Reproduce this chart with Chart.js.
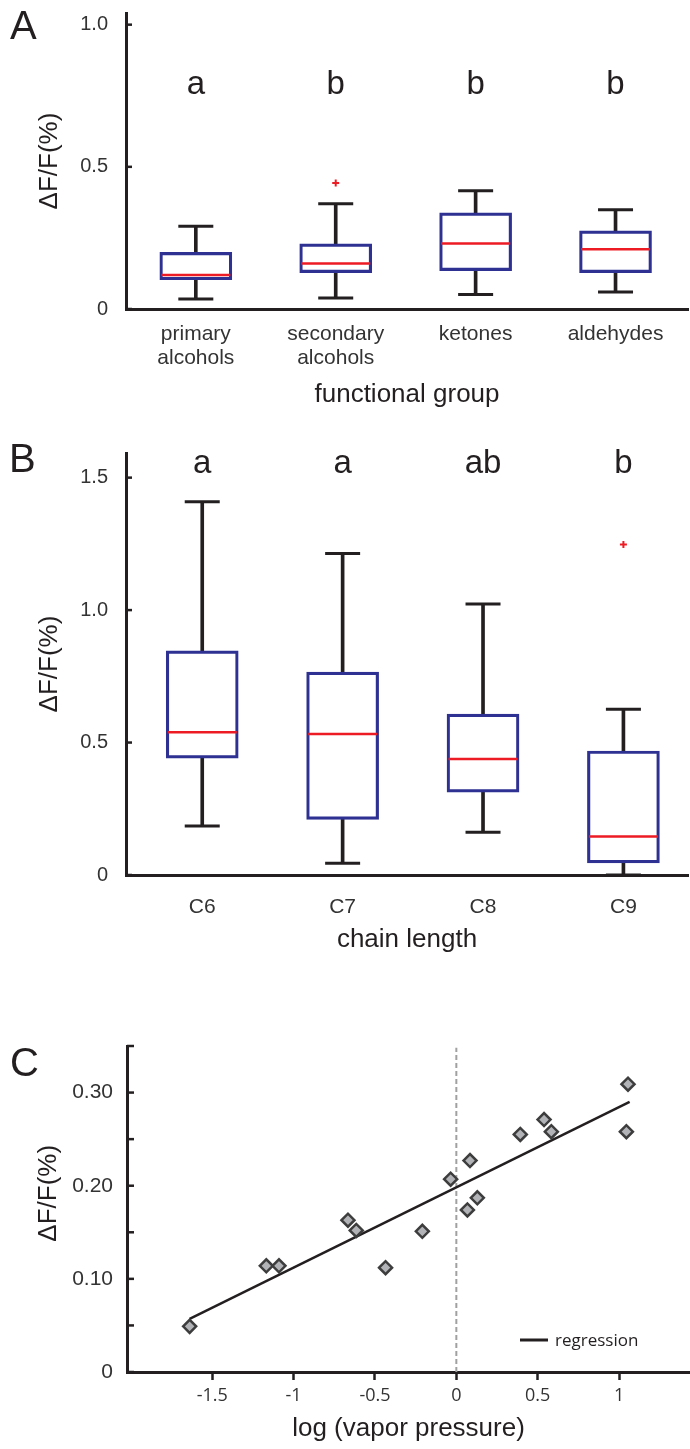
<!DOCTYPE html>
<html lang="en">
<head>
<meta charset="utf-8">
<title>ΔF/F by functional group, chain length and vapor pressure</title>
<script src="https://cdn.jsdelivr.net/npm/chart.js@4/dist/chart.umd.min.js"></script>
<style>
  html, body { margin: 0; padding: 0; background: #ffffff; }
  #figure { position: relative; width: 690px; height: 1449px; }
  canvas { position: absolute; left: 0; }
</style>
</head>
<body>
<div id="figure">
  <canvas id="chartA" width="690" height="420" style="top:0px"></canvas>
  <canvas id="chartB" width="690" height="580" style="top:420px"></canvas>
  <canvas id="chartC" width="690" height="449" style="top:1000px"></canvas>
</div>
<script>
// ---- Panel A: functional group (box plot values) ----
const groupsA = [['primary', 'alcohols'], ['secondary', 'alcohols'], 'ketones', 'aldehydes'];
const lowA  = [0.035, 0.039, 0.051, 0.060];
const q1A   = [0.103, 0.128, 0.135, 0.128];
const medA  = [0.120, 0.160, 0.230, 0.210];
const q3A   = [0.199, 0.229, 0.338, 0.275];
const highA = [0.291, 0.370, 0.416, 0.349];
const outlierGroupA = [1];
const outlierValueA = [0.443];
const sigA = ['a', 'b', 'b', 'b'];
const yTicksA  = [0, 0.5, 1.0];
const yLabelsA = ['0', '0.5', '1.0'];

// ---- Panel B: chain length ----
const groupsB = ['C6', 'C7', 'C8', 'C9'];
const lowB  = [0.185, 0.044, 0.161, 0.000];
const q1B   = [0.441, 0.210, 0.313, 0.046];
const medB  = [0.539, 0.532, 0.438, 0.145];
const q3B   = [0.846, 0.766, 0.607, 0.468];
const highB = [1.409, 1.214, 1.023, 0.626];
const outlierGroupB = [3];
const outlierValueB = [1.248];
const sigB = ['a', 'a', 'ab', 'b'];
const yTicksB  = [0, 0.5, 1.0, 1.5];
const yLabelsB = ['0', '0.5', '1.0', '1.5'];

// ---- Panel C: log vapor pressure vs response ----
const logVP = [-1.639, -1.168, -1.090, -0.666, -0.615, -0.435, -0.209, -0.035,
               0.084, 0.068, 0.129, 0.393, 0.539, 0.584, 1.055, 1.045];
const dffC  = [0.049, 0.114, 0.114, 0.163, 0.152, 0.112, 0.151, 0.207,
               0.227, 0.174, 0.187, 0.255, 0.271, 0.258, 0.309, 0.258];
const regX = [-1.639, 1.065];
const regY = [0.057, 0.290];
const zeroX = [0, 0];
const zeroY = [0, 0.348];
const xTicksC  = [-1.5, -1, -0.5, 0, 0.5, 1];
const xLabelsC = ['-1.5', '-1', '-0.5', '0', '0.5', '1'];
const yTicksC  = [0, 0.05, 0.10, 0.15, 0.20, 0.25, 0.30, 0.35];
const yLabelsC = ['0', '', '0.10', '', '0.20', '', '0.30', ''];

// Cores e fontes
const INK = '#231f20';
const TICK = '#333333';
const BOX_BLUE = '#2e3192';
const MED_RED = '#ed1c24';
const SANS = '"Liberation Sans", Arial, Helvetica, sans-serif';
const SANS_C = '"Open Sans", Calibri, sans-serif';
const YTITLE = 'ΔF/F(%)';

// inward tick marks on the y axis
function inwardTicks(length) {
    return {
        id: 'inwardTicks',
        afterDraw(chart) {
            const { ctx, chartArea, scales: { y } } = chart;
            ctx.save();
            ctx.strokeStyle = INK;
            ctx.lineWidth = 2.5;
            y.ticks.forEach(t => {
                const py = y.getPixelForValue(t.value);
                ctx.beginPath();
                ctx.moveTo(chartArea.left, py);
                ctx.lineTo(chartArea.left + length, py);
                ctx.stroke();
            });
            ctx.restore();
        }
    };
}

// significance letters above each group
function sigLetters(letters, level) {
    return {
        id: 'sigLetters',
        afterDraw(chart) {
            const { ctx, scales: { x, y } } = chart;
            ctx.save();
            ctx.fillStyle = INK;
            ctx.font = '33px ' + SANS;
            ctx.textAlign = 'center';
            ctx.textBaseline = 'alphabetic';
            letters.forEach((s, i) => ctx.fillText(s, x.getPixelForValue(i), y.getPixelForValue(level)));
            ctx.restore();
        }
    };
}

// free text: panel letters, rotated titles
function freeText(items) {
    return {
        id: 'freeText',
        afterDraw(chart) {
            const ctx = chart.ctx;
            items.forEach(it => {
                ctx.save();
                ctx.fillStyle = INK;
                ctx.font = it.font;
                ctx.textAlign = it.align || 'left';
                ctx.textBaseline = it.baseline || 'alphabetic';
                ctx.translate(it.x, it.y);
                if (it.rotate) ctx.rotate(it.rotate);
                ctx.fillText(it.text, 0, 0);
                ctx.restore();
            });
        }
    };
}

// small legend inside panel C
function lineLegend(label) {
    return {
        id: 'lineLegend',
        afterDraw(chart) {
            const ctx = chart.ctx;
            ctx.save();
            ctx.strokeStyle = INK;
            ctx.lineWidth = 3;
            ctx.beginPath();
            ctx.moveTo(520, 340);
            ctx.lineTo(548, 340);
            ctx.stroke();
            ctx.fillStyle = INK;
            ctx.font = '17px ' + SANS_C;
            ctx.textBaseline = 'alphabetic';
            ctx.fillText(label, 555, 345.5);
            ctx.restore();
        }
    };
}

// datasets for one box plot panel
function boxDatasets(low, q1, med, q3, high, outG, outV) {
    const idx = med.map((_, i) => i);
    return [
        {
            type: 'line', label: 'median',
            data: idx.map(i => ({ x: i, y: med[i] })),
            showLine: false, pointStyle: 'line', pointRadius: 34.5,
            pointBorderColor: MED_RED, pointBorderWidth: 2.5, order: 0
        },
        {
            type: 'line', label: 'caps',
            data: idx.map(i => ({ x: i, y: high[i] })).concat(idx.map(i => ({ x: i, y: low[i] }))),
            showLine: false, pointStyle: 'line', pointRadius: 17.5,
            pointBorderColor: INK, pointBorderWidth: 3, order: 0
        },
        {
            type: 'line', label: 'outliers',
            data: outG.map((g, k) => ({ x: g, y: outV[k] })),
            showLine: false, pointStyle: 'cross', pointRadius: 3.5,
            pointBorderColor: MED_RED, pointBorderWidth: 2, order: 0
        },
        {
            type: 'bar', label: 'box',
            data: idx.map(i => ({ x: i, y: [q1[i], q3[i]] })),
            backgroundColor: 'rgba(0,0,0,0)', borderColor: BOX_BLUE, borderWidth: 2.5,
            borderSkipped: false, barThickness: 72, grouped: false, order: 1
        },
        {
            type: 'bar', label: 'upper whisker',
            data: idx.map(i => ({ x: i, y: [q3[i], high[i]] })),
            backgroundColor: INK, borderWidth: 0, barThickness: 3, grouped: false, order: 2
        },
        {
            type: 'bar', label: 'lower whisker',
            data: idx.map(i => ({ x: i, y: [low[i], q1[i]] })),
            backgroundColor: INK, borderWidth: 0, barThickness: 3, grouped: false, order: 2
        }
    ];
}

function boxOptions(cfg) {
    return {
        responsive: false,
        animation: false,
        events: [],
        layout: { autoPadding: false, padding: { top: cfg.top, right: 2, bottom: 0, left: 0 } },
        plugins: { legend: { display: false }, tooltip: { enabled: false } },
        scales: {
            x: {
                type: 'linear', min: cfg.xMin, max: cfg.xMax, offset: false,
                afterBuildTicks: s => { s.ticks = cfg.labels.map((_, i) => ({ value: i })); },
                afterFit: s => { s.height = cfg.xHeight; s.paddingLeft = 0; s.paddingRight = 0; },
                grid: { display: false, drawTicks: false, offset: false },
                border: { display: true, color: INK, width: 3 },
                ticks: {
                    color: TICK, padding: cfg.xPad, maxRotation: 0, autoSkip: false,
                    font: { family: SANS, size: 21, lineHeight: 1.15 },
                    callback: (v, i) => cfg.labels[i]
                },
                title: {
                    display: true, text: cfg.xTitle, color: INK,
                    font: { family: SANS, size: 26 },
                    padding: { top: 0, bottom: cfg.xTitlePad }
                }
            },
            y: {
                min: 0, max: cfg.yMax,
                afterBuildTicks: s => { s.ticks = cfg.yTicks.map(v => ({ value: v })); },
                afterFit: s => { s.width = 126; s.paddingTop = 0; s.paddingBottom = 0; },
                grid: { display: false, drawTicks: false },
                border: { display: true, color: INK, width: 3 },
                ticks: {
                    color: TICK, padding: 18, autoSkip: false,
                    font: { family: SANS, size: 20 },
                    callback: (v, i) => cfg.yLabels[i]
                },
                title: {
                    display: true, text: YTITLE, color: INK,
                    font: { family: SANS, size: 26 },
                    padding: { top: 34.4, bottom: 0 }
                }
            }
        }
    };
}

// Painel A
new Chart(document.getElementById('chartA'), {
    type: 'bar',
    data: { datasets: boxDatasets(lowA, q1A, medA, q3A, highA, outlierGroupA, outlierValueA) },
    options: boxOptions({
        top: 13, xMin: -0.499, xMax: 3.518, xHeight: 111, xPad: 13, xTitlePad: 9.5,
        labels: groupsA, xTitle: 'functional group',
        yMax: 1.041, yTicks: yTicksA, yLabels: yLabelsA
    }),
    plugins: [inwardTicks(6), sigLetters(sigA, 0.757),
              freeText([{ text: 'A', x: 10, y: 39, font: '40px ' + SANS }])]
});

// Painel B
new Chart(document.getElementById('chartB'), {
    type: 'bar',
    data: { datasets: boxDatasets(lowB, q1B, medB, q3B, highB, outlierGroupB, outlierValueB) },
    options: boxOptions({
        top: 33, xMin: -0.543, xMax: 3.46, xHeight: 125, xPad: 19.8, xTitlePad: 45,
        labels: groupsB, xTitle: 'chain length',
        yMax: 1.593, yTicks: yTicksB, yLabels: yLabelsB
    }),
    plugins: [inwardTicks(6), sigLetters(sigB, 1.516),
              freeText([{ text: 'B', x: 9, y: 51.7, font: '40px ' + SANS }])]
});

// Painel C
new Chart(document.getElementById('chartC'), {
    type: 'scatter',
    data: {
        datasets: [
            {
                label: 'odorants',
                data: logVP.map((v, i) => ({ x: v, y: dffC[i] })),
                showLine: false, pointStyle: 'rectRot', pointRadius: 6.5,
                pointBackgroundColor: '#b1b3b6', pointBorderColor: '#3d3d3d', pointBorderWidth: 2.5,
                order: 0
            },
            {
                type: 'line', label: 'regression',
                data: regX.map((v, i) => ({ x: v, y: regY[i] })),
                borderColor: INK, borderWidth: 2.5, pointRadius: 0, fill: false, order: 1
            },
            {
                type: 'line', label: 'zero',
                data: zeroX.map((v, i) => ({ x: v, y: zeroY[i] })),
                borderColor: '#a0a0a0', borderWidth: 2, borderDash: [5, 3],
                pointRadius: 0, fill: false, order: 2
            }
        ]
    },
    options: {
        responsive: false,
        animation: false,
        events: [],
        layout: { autoPadding: false, padding: { top: 46, right: 0, bottom: 0, left: 0 } },
        plugins: { legend: { display: false }, tooltip: { enabled: false } },
        scales: {
            x: {
                type: 'linear', min: -2.024, max: 1.436,
                afterBuildTicks: s => { s.ticks = xTicksC.map(v => ({ value: v })); },
                afterFit: s => { s.height = 77; s.paddingLeft = 0; s.paddingRight = 0; },
                grid: {
                    display: true, drawOnChartArea: false, drawTicks: true,
                    tickLength: 8, tickWidth: 2.5, tickColor: INK, color: INK
                },
                border: { display: true, color: INK, width: 3 },
                ticks: {
                    color: TICK, padding: 5, maxRotation: 0, autoSkip: false,
                    font: { family: SANS_C, size: 18 },
                    callback: (v, i) => xLabelsC[i]
                },
                title: {
                    display: true, text: 'log (vapor pressure)', color: INK,
                    font: { family: SANS, size: 26 },
                    padding: { top: 0, bottom: 4.4 }
                }
            },
            y: {
                min: 0, max: 0.35,
                afterBuildTicks: s => { s.ticks = yTicksC.map(v => ({ value: v })); },
                afterFit: s => { s.width = 127; s.paddingTop = 0; s.paddingBottom = 0; },
                grid: { display: false, drawTicks: false },
                border: { display: true, color: INK, width: 3 },
                ticks: {
                    color: TICK, padding: 14, autoSkip: false,
                    font: { family: SANS, size: 21 },
                    callback: (v, i) => yLabelsC[i]
                }
            }
        }
    },
    plugins: [inwardTicks(7), lineLegend('regression'),
              freeText([
                  { text: 'C', x: 10, y: 76, font: '40px ' + SANS },
                  { text: YTITLE, x: 49, y: 193.3, font: '26px ' + SANS,
                    align: 'center', baseline: 'middle', rotate: -Math.PI / 2 }
              ])]
});
</script>
</body>
</html>
